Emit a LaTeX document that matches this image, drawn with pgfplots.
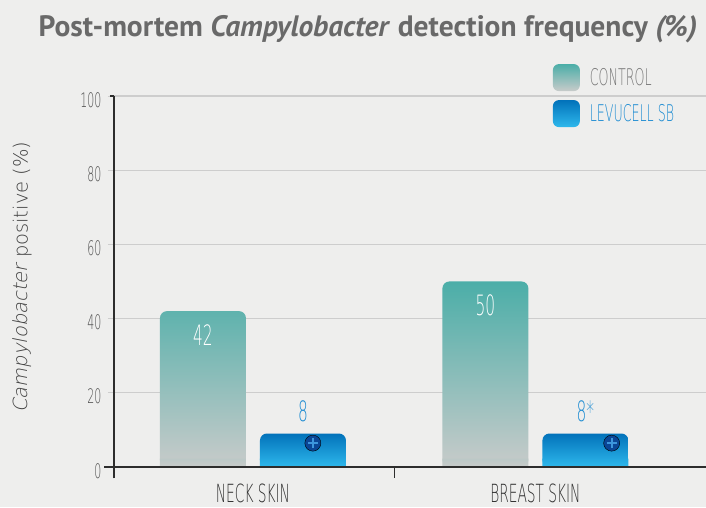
\documentclass[border=0pt]{standalone}
\usepackage{fontspec}
\setmainfont{PT Sans}
\newfontfamily\hand[FakeStretch=0.55]{DejaVu Sans ExtraLight}
\newfontfamily\light{DejaVu Sans ExtraLight}[ItalicFont={DejaVu Sans ExtraLight},ItalicFeatures={FakeSlant=0.2}]
\usepackage{pgfplots}
\pgfplotsset{compat=1.18}
\definecolor{bgc}{RGB}{238,238,237}
\definecolor{tealc}{RGB}{75,174,168}
\definecolor{ctrlbot}{RGB}{200,203,202}
\definecolor{levtop}{RGB}{2,114,186}
\definecolor{levbot}{RGB}{46,184,236}
\definecolor{navyc}{RGB}{10,70,150}
\definecolor{plusc}{RGB}{60,150,220}
\definecolor{gridc}{RGB}{205,205,205}
\definecolor{axc}{RGB}{45,45,45}
\definecolor{tickc}{RGB}{80,80,80}
\definecolor{catc}{RGB}{50,50,50}
\definecolor{legc}{RGB}{120,120,120}
\definecolor{levtxt}{RGB}{30,140,210}
\definecolor{titc}{RGB}{105,105,105}
\definecolor{ylabc}{RGB}{65,65,65}
\begin{document}
\begin{tikzpicture}
\fill[bgc] (-114pt,-29pt) rectangle (592pt,478pt);
\node[font=\bfseries\fontsize{29.5}{33}\selectfont, text=titc] at (254pt,449pt) {Post-mortem \textit{Campylobacter} detection frequency \textit{(\%)}};
\begin{axis}[
  scale only axis, width=592pt, height=382pt,
  xmin=-0.492, xmax=1.604, ymin=-3, ymax=100,
  axis lines*=left, axis line style={draw=none},
  clip=false,
  xtick={0,1}, xticklabels={NECK SKIN, BREAST SKIN},
  xtick style={draw=none},
  ytick={0,20,...,100},
  ymajorgrids, grid style={gridc, line width=1.2pt},
  ytick style={gridc, line width=1pt}, tick align=outside, major tick length=6pt,
  /pgf/number format/assume math mode=true,
  yticklabel style={font=\hand\fontsize{20}{20}\selectfont, text=tickc, yshift=-4pt, xshift=-3pt},
  xticklabel style={font=\hand\fontsize{25}{25}\selectfont, text=catc, yshift=4pt},
  ylabel={\light\fontsize{19.5}{19.5}\selectfont\textit{Campylobacter} positive (\%)},
  every axis y label/.style={at={(axis description cs:-0.155,0.526)}, rotate=90, anchor=center, text=ylabc},
  legend style={at={(axis description cs:0.741,1.084)}, anchor=north west, draw=none, fill=none,
    row sep=9pt, font=\hand\fontsize{23}{23}\selectfont, inner sep=0pt,
    /tikz/every odd column/.append style={column sep=8pt}},
  legend cell align=left,
]
\addplot[ybar, draw=none, rounded corners=7pt, top color=tealc, middle color=tealc, bottom color=ctrlbot,
  bar width=86pt, bar shift=-50pt,
  nodes near coords, point meta=explicit symbolic, nodes near coords align={below},
  every node near coord/.append style={text=white, font=\hand\fontsize{28}{28}\selectfont, yshift=-10pt, xshift=-50pt},
  legend image code/.code={\shade[rounded corners=6pt, top color=tealc, bottom color=ctrlbot] (0pt,-13.5pt) rectangle (27pt,13.5pt);}]
  coordinates {(0,42) [42] (1,50) [50]};
\addlegendentry{\textcolor{legc}{CONTROL}}
\addplot[ybar, draw=none, rounded corners=7pt, top color=levtop, bottom color=levbot,
  bar width=86pt, bar shift=50pt,
  nodes near coords, point meta=explicit symbolic, nodes near coords align={above},
  every node near coord/.append style={text=levtxt, font=\hand\fontsize{28}{28}\selectfont, yshift=8pt, xshift=50pt},
  legend image code/.code={\shade[rounded corners=6pt, top color=levtop, bottom color=levbot] (0pt,-13.5pt) rectangle (27pt,13.5pt);}]
  coordinates {(0,9) [8] (1,9) [8*]};
\addlegendentry{\textcolor{levtxt}{LEVUCELL SB}}
% square bottoms
\addplot[ybar, forget plot, draw=none, top color=ctrlbot!90!tealc, bottom color=ctrlbot, bar width=86pt, bar shift=-50pt]
  coordinates {(0,2.2) (1,2.2)};
\addplot[ybar, forget plot, draw=none, top color=levbot!76!levtop, bottom color=levbot, bar width=86pt, bar shift=50pt]
  coordinates {(0,2.2) (1,2.2)};
% icon
\addplot[only marks, forget plot, mark=*, mark size=8pt, mark options={fill=navyc, draw=none}]
  coordinates {(0.212,6.4) (1.27,6.4)};
\addplot[only marks, forget plot, mark=+, mark size=5pt, mark options={draw=plusc, line width=2pt}]
  coordinates {(0.212,6.4) (1.27,6.4)};
\draw[axc, line width=1.3pt] (axis cs:-0.527,0) -- (axis cs:1.604,0);
\draw[axc, line width=1.3pt] (axis cs:-0.492,-3.1) -- (axis cs:-0.492,100);
\draw[axc, line width=1.3pt] (axis cs:0.5,0) -- (axis cs:0.5,-3.1);
\draw[axc, line width=1.3pt] (axis cs:-0.507,100) -- (axis cs:-0.492,100);
\end{axis}
\pgfresetboundingbox
\useasboundingbox (-114pt,-29pt) rectangle (592pt,478pt);
\end{tikzpicture}
\end{document}
